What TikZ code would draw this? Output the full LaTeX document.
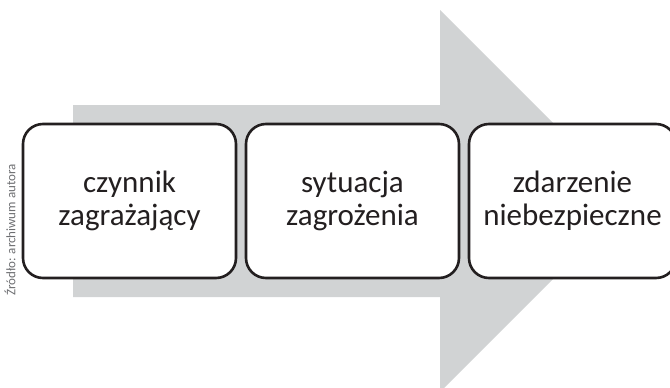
\documentclass[tikz,border=0pt]{standalone}
\usepackage{fontspec}
\setmainfont{Carlito}
\definecolor{arrowgray}{HTML}{D1D3D4}
\definecolor{ink}{HTML}{231F20}
\definecolor{srcgray}{HTML}{6D6E71}
\begin{document}
\begin{tikzpicture}[x=1pt,y=-1pt,
  stagebox/.style={draw=ink, line width=2.6pt, fill=white, rounded corners=20pt,
    minimum height=154pt, inner sep=0pt, align=center, text=ink,
    font=\fontsize{31}{33}\selectfont},
  srctext/.style={rotate=90, text=srcgray, font=\fontsize{13}{15}\selectfont, inner sep=0pt}]
\useasboundingbox (0,0) rectangle (670,388);
\fill[arrowgray] (73,105) -- (440,105) -- (440,10) -- (631,201) -- (440,392)
  -- (440,297) -- (73,297) -- cycle;
\node[stagebox, minimum width=213pt] (b1) at (129.5,201) {czynnik\\zagrażający};
\node[stagebox, minimum width=213pt] (b2) at (352.5,201) {sytuacja\\zagrożenia};
\node[stagebox, minimum width=207pt] (b3) at (572.5,201) {zdarzenie\\niebezpieczne};
\node[srctext] (src) at (10,230) {Źródło: archiwum autora};
\end{tikzpicture}
\end{document}
